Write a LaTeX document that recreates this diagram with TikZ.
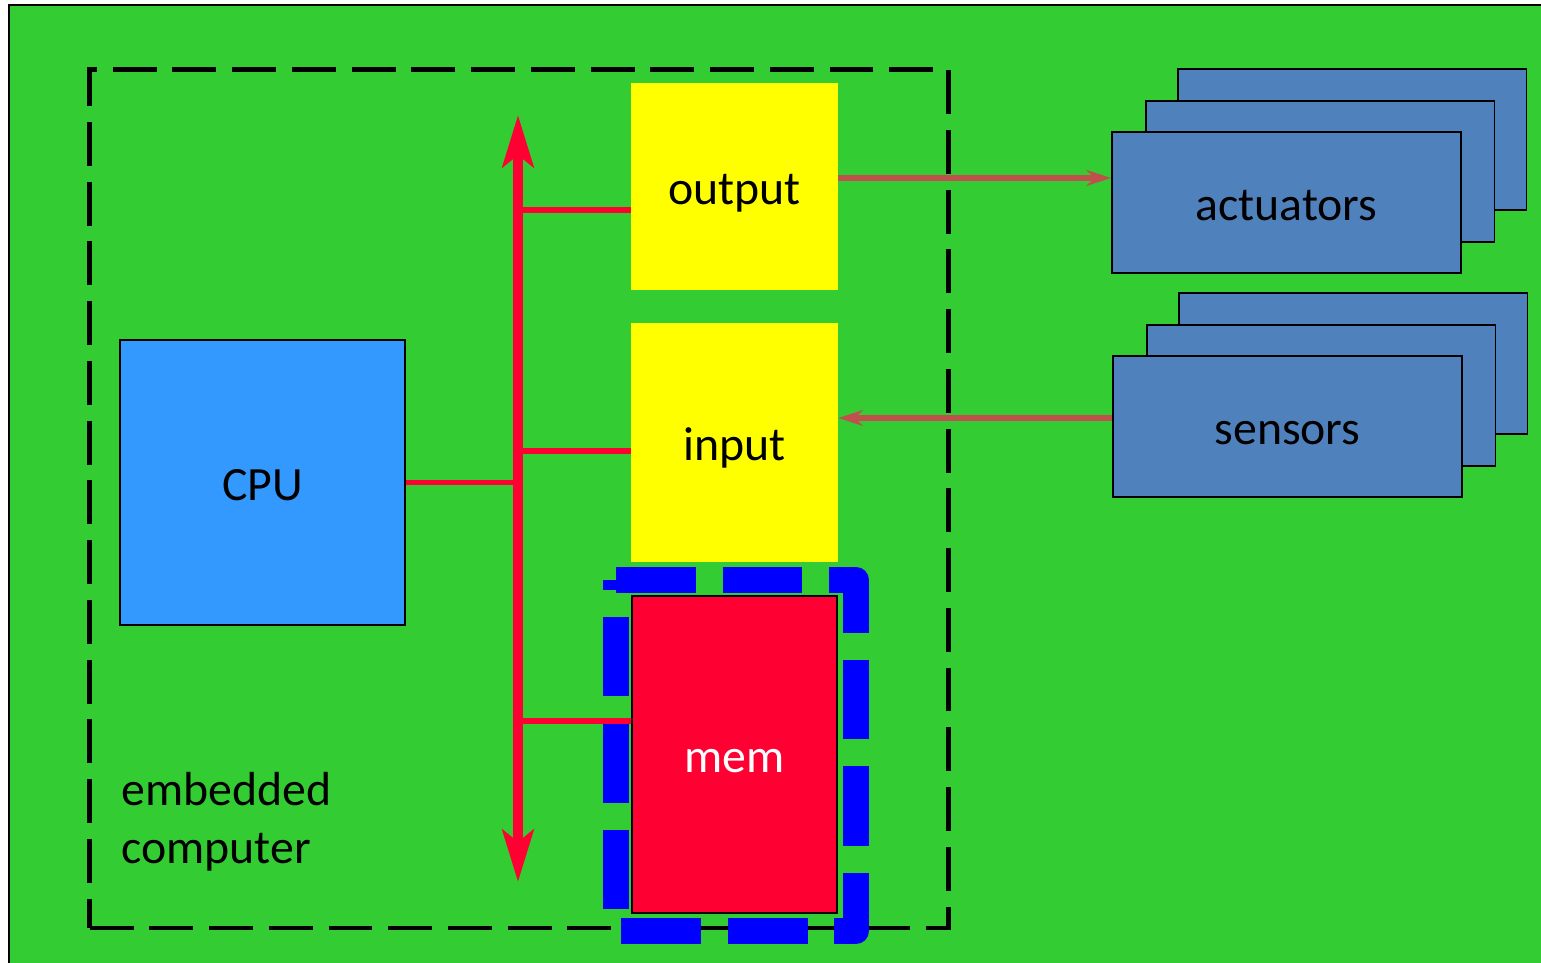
\documentclass[tikz,border=0pt]{standalone}
\usepackage{fontspec}
\setmainfont{Carlito}
\usepackage{tikz}
\usetikzlibrary{positioning,arrows.meta,calc}

\definecolor{board}{RGB}{51,204,51}
\definecolor{cpublue}{RGB}{51,153,255}
\definecolor{busred}{RGB}{255,0,51}
\definecolor{ioyellow}{RGB}{255,255,0}
\definecolor{devblue}{RGB}{79,129,189}
\definecolor{linkred}{RGB}{192,80,77}

\begin{document}
\begin{tikzpicture}[
      x=0.02cm, y=-0.02cm,
      font=\fontsize{27.2}{33}\selectfont
    ]

    \tikzstyle{unit} = [rectangle, inner sep=0pt, text centered, text height=21.5pt, text depth=1.1pt]
    \tikzstyle{stack} = [rectangle, minimum width=6.98cm, minimum height=2.82cm, draw=black, line width=1.1pt, fill=devblue, text height=21.5pt, text depth=1.1pt]
    \tikzstyle{branch} = [busred, line width=3.2pt]
    \tikzstyle{bus} = [busred, line width=6.2pt, {Stealth[length=29.5pt, width=17.6pt, inset=6.8pt]}-{Stealth[length=29.5pt, width=17.6pt, inset=6.8pt]}]
    \tikzstyle{link} = [linkred, line width=3.1pt, -{Stealth[length=14pt, width=9pt, inset=4.5pt]}]

    \useasboundingbox (0,0) rectangle (1541,963);
    \clip (0,0) rectangle (1541,963);
    \filldraw[fill=board, draw=black, line width=0.9pt] (9,5) rectangle (1570,990);

    % embedded computer
    \node [rectangle, inner sep=0pt, minimum width=17.18cm, minimum height=17.17cm, draw=black, line width=2.6pt, dash pattern=on 25pt off 9pt] (embedded) at (519,498.75) {};
    \node [rectangle, inner sep=0pt, anchor=west, align=left] (embname) at (121,822) {embedded\\computer};

    \node [unit, minimum width=5.7cm, minimum height=5.7cm, draw=black, line width=1.1pt, fill=cpublue] (cpu) at (262.5,482.5) {CPU};
    \node [unit, minimum width=4.14cm, minimum height=4.14cm, fill=ioyellow] (output) at (734.5,186.5) {output};
    \node [unit, minimum width=4.14cm, minimum height=4.78cm, fill=ioyellow] (input) at (734.5,442.5) {input};

    \draw [blue, line width=14.74pt, line join=round, dash pattern=on 45.35pt off 15.31pt] (616,580) -- (856,580) -- (856,931) -- (616,931) -- cycle;
    \node [unit, minimum width=4.1cm, minimum height=6.34cm, draw=black, line width=1.1pt, fill=busred, text=white] (mem) at (734.5,754.5) {mem};

    % bus
    \coordinate (bustop) at (518,115);
    \coordinate (busbot) at (518,882);
    \coordinate (otap) at ([yshift=-0.47cm]output.west);
    \coordinate (itap) at ([yshift=-0.17cm]input.west);
    \coordinate (mtap) at ([yshift=0.67cm]mem.west);
    \draw [branch] (cpu.east) -- (cpu.east -| bustop);
    \draw [branch] (otap) -- (otap -| bustop);
    \draw [branch] (itap) -- (itap -| bustop);
    \draw [branch] (mtap) -- (mtap -| bustop);
    \draw [bus] (busbot) -- (bustop);

    % devices
    \node [stack] (actback) at (1352,139.5) {};
    \node [stack] (actmid) at (1320,171.5) {};
    \node [stack] (actuators) at (1286.5,202.5) {actuators};
    \node [stack] (sensback) at (1353,363.5) {};
    \node [stack] (sensmid) at (1321,395.5) {};
    \node [stack] (sensors) at (1287.5,426.5) {sensors};

    \coordinate (outtap) at ([yshift=0.17cm]output.east);
    \coordinate (senstap) at ([yshift=0.17cm]sensors.west);
    \draw [link] (outtap) -- (outtap -| actuators.west);
    \draw [link] (senstap) -- (senstap -| input.east);

\end{tikzpicture}
\end{document}
